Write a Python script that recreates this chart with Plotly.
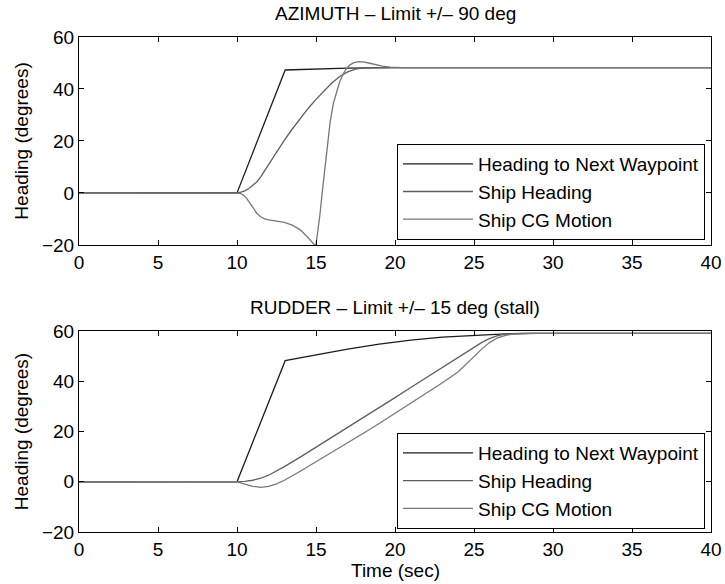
import plotly.graph_objects as go

# ---- Azimuth thruster run (limit +/- 90 deg) ----
az_wp_t = [0, 10, 13.05, 15, 17, 20, 40]
az_wp_y = [0, 0, 47.3, 47.7, 48.0, 48.2, 48.2]

az_hd_t = [0, 10, 10.25, 10.5, 10.75, 11, 11.25, 11.5, 11.75, 12, 12.5, 13, 13.5, 14, 14.5,
           15, 15.5, 16, 16.5, 17, 17.5, 18, 18.5, 19, 40]
az_hd_y = [0, 0, 0.3, 0.8, 1.7, 2.8, 4.2, 6.2, 8.6, 11.2, 15.8, 20.3, 24.6, 28.7, 32.5,
           36.0, 39.3, 42.3, 44.8, 46.6, 47.6, 48.1, 48.2, 48.2, 48.2]

az_cg_t = [0, 10, 10.2, 10.4, 10.6, 10.8, 11.0, 11.25, 11.5, 11.75, 12.0, 12.5, 13.0, 13.5,
           14.0, 14.4, 14.7, 14.9, 15.0, 15.1, 15.25, 15.4, 15.57, 15.75, 15.9, 16.1, 16.3,
           16.5, 16.7, 16.9, 17.15, 17.4, 17.7, 18.0, 18.4, 18.8, 19.2, 19.7, 20.5, 40]
az_cg_y = [0, 0, -0.2, -0.8, -2.0, -3.7, -5.7, -7.8, -9.2, -10.0, -10.4, -10.8, -11.3, -12.4,
           -14.2, -16.6, -18.8, -19.9, -20, -16, -8.3, 0.5, 9.6, 19.5, 27.5, 34.5, 39.1,
           42.8, 45.5, 47.6, 49.3, 50.1, 50.5, 50.4, 49.9, 49.3, 48.8, 48.4, 48.2, 48.2]

# ---- Rudder run (limit +/- 15 deg, stall) ----
ru_wp_t = [0, 10, 13.05, 15, 17, 19, 21, 23, 25, 27, 29, 40]
ru_wp_y = [0, 0, 48.2, 50.5, 52.8, 54.8, 56.4, 57.6, 58.4, 58.9, 59.1, 59.1]

ru_hd_t = [0, 10, 10.5, 11, 11.5, 12, 12.5, 13, 14, 15, 16, 17, 18, 19, 20, 21, 22, 23, 24,
           25, 25.5, 26, 26.5, 27, 28, 40]
ru_hd_y = [0, 0, 0.15, 0.6, 1.4, 2.6, 4.2, 6.0, 9.8, 13.7, 17.6, 21.5, 25.5, 29.5, 33.5,
           37.5, 41.5, 45.5, 49.5, 53.5, 55.5, 57.1, 58.2, 58.8, 59.1, 59.1]

ru_cg_t = [0, 10, 10.5, 11, 11.5, 12, 12.5, 13, 14, 15, 16, 17, 18, 19, 20, 21, 22, 23, 24,
           24.5, 25, 25.5, 26, 26.5, 27, 27.5, 28.5, 40]
ru_cg_y = [0, 0, -0.9, -1.8, -2.2, -1.8, -0.8, 0.6, 4.2, 7.9, 11.6, 15.4, 19.3, 23.2, 27.2,
           31.2, 35.2, 39.4, 43.8, 46.6, 49.8, 52.9, 55.5, 57.3, 58.3, 58.8, 59.1, 59.1]

series_names = ["Heading to Next Waypoint", "Ship Heading", "Ship CG Motion"]
x_ticks = [0, 5, 10, 15, 20, 25, 30, 35, 40]
y_ticks = [-20, 0, 20, 40, 60]

line_colors = ["#1c1c1c", "#5e5e5e", "#777777"]
FONT = "Liberation Sans, Arial, Helvetica, sans-serif"
FS = 19

fig = go.Figure()

top = [(az_wp_t, az_wp_y), (az_hd_t, az_hd_y), (az_cg_t, az_cg_y)]
bot = [(ru_wp_t, ru_wp_y), (ru_hd_t, ru_hd_y), (ru_cg_t, ru_cg_y)]

for i, (t, y) in enumerate(top):
    fig.add_trace(go.Scatter(
        x=t, y=y, mode="lines", name=series_names[i],
        line=dict(color=line_colors[i], width=1.3),
        xaxis="x", yaxis="y", legend="legend"))

for i, (t, y) in enumerate(bot):
    fig.add_trace(go.Scatter(
        x=t, y=y, mode="lines", name=series_names[i],
        line=dict(color=line_colors[i], width=1.3),
        xaxis="x2", yaxis="y2", legend="legend2"))

axis_common = dict(
    showline=True, linecolor="black", linewidth=1, mirror="ticks",
    ticks="inside", ticklen=5, tickcolor="black", tickwidth=1,
    showgrid=False, zeroline=False, automargin=False,
    tickfont=dict(family=FONT, size=FS, color="black"),
)

legend_common = dict(
    bgcolor="white", bordercolor="black", borderwidth=1,
    font=dict(family=FONT, size=FS, color="black"),
    xanchor="right", yanchor="bottom", itemwidth=70,
    tracegroupgap=0,
)

fig.update_layout(
    width=725, height=584,
    margin=dict(l=79, r=14, t=37, b=52, autoexpand=False),
    paper_bgcolor="white", plot_bgcolor="white",
    font=dict(family=FONT, size=FS, color="black"),
    xaxis=dict(domain=[0, 1], range=[0, 40], tickvals=x_ticks, anchor="y",
               ticklabelstandoff=0, **axis_common),
    yaxis=dict(domain=[0.58, 1], range=[-20, 60], tickvals=y_ticks, anchor="x",
               title=dict(text="Heading (degrees)", font=dict(family=FONT, size=FS), standoff=8),
               **axis_common),
    xaxis2=dict(domain=[0, 1], range=[0, 40], tickvals=x_ticks, anchor="y2",
                ticklabelstandoff=0, **axis_common),
    yaxis2=dict(domain=[0, 0.406], range=[-20, 60], tickvals=y_ticks, anchor="x2",
                title=dict(text="Heading (degrees)", font=dict(family=FONT, size=FS), standoff=8),
                **axis_common),
    legend=dict(x=0.9905, y=0.590, **legend_common),
    legend2=dict(x=0.9905, y=0.006, **legend_common),
    annotations=[
        dict(text="AZIMUTH \u2013 Limit +/\u2013 90 deg", x=0.5, y=1, xref="paper", yref="paper",
             xanchor="center", yanchor="bottom", yshift=11, showarrow=False,
             font=dict(family=FONT, size=FS, color="black")),
        dict(text="RUDDER \u2013 Limit +/\u2013 15 deg (stall)", x=0.5, y=0.406, xref="paper", yref="paper",
             xanchor="center", yanchor="bottom", yshift=11, showarrow=False,
             font=dict(family=FONT, size=FS, color="black")),
        dict(text="Time (sec)", x=0.5, y=0, xref="paper", yref="paper",
             xanchor="center", yanchor="middle", yshift=-38, showarrow=False,
             font=dict(family=FONT, size=FS, color="black")),
    ],
    showlegend=True,
)

fig.write_html("out.html")
